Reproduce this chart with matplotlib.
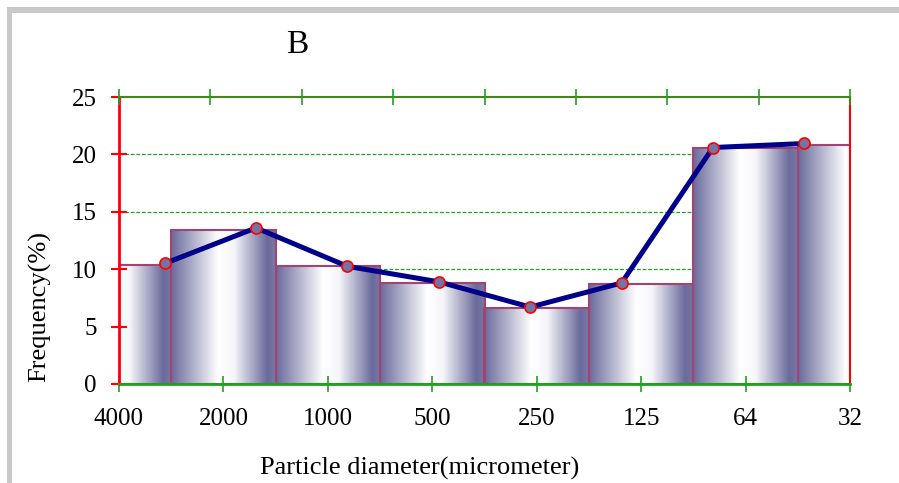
import matplotlib
matplotlib.use("Agg")
import matplotlib.pyplot as plt
import numpy as np
from matplotlib.colors import LinearSegmentedColormap
from matplotlib.patches import Rectangle

# data
sizes = ["4000", "2000", "1000", "500", "250", "125", "64", "32"]
bar_freq = [10.35, 13.45, 10.25, 8.8, 6.65, 8.7, 20.6, 20.85]
line_freq = [10.5, 13.6, 10.25, 8.9, 6.7, 8.8, 20.6, 20.95]
yticks = [0, 5, 10, 15, 20, 25]
grid_levels = [10, 15, 20]

plt.rcParams['font.family'] = ['Liberation Serif', 'DejaVu Serif']

red = "#ff0000"
green = "#22a022"
dark = "#6a6a9c"
edge = "#a04472"

fig = plt.figure(figsize=(8.99, 4.83), dpi=100)
ax = fig.add_axes([119/899, 1-384/483, 731/899, 287/483])

# gradient used inside every bar (dark - white - dark)
cmap = LinearSegmentedColormap.from_list("barfill", [
    (0.0, dark), (0.45, "#ffffff"), (0.6, "#f6f6fa"), (0.92, dark), (1.0, "#7a7aa6")])
grad = np.linspace(0, 1, 256).reshape(1, -1)

x = np.arange(len(sizes))
for i, h in enumerate(bar_freq):
    ax.imshow(grad, cmap=cmap, extent=[x[i]-0.5, x[i]+0.5, 0, h],
              aspect="auto", zorder=1, interpolation="bilinear")
ax.bar(x, bar_freq, width=1.0, facecolor="none", edgecolor=edge,
       linewidth=1.5, zorder=2)

for g in grid_levels:
    ax.axhline(g, color=green, linestyle=(0, (3, 1.5)), linewidth=0.9, zorder=0.5)

ax.set_xlim(0, len(sizes)-1)
ax.set_ylim(0, 25)
ax.set_xticks(x)
ax.set_xticklabels(sizes)
ax.set_yticks(yticks)

ax.tick_params(axis="x", direction="inout", length=11, width=1.2, color=green,
               labelsize=18, pad=12)
ax.tick_params(axis="y", direction="inout", length=12, width=1.5, color=red,
               labelsize=18, pad=10)
ax.spines["left"].set_color(red)
ax.spines["left"].set_linewidth(2)
ax.spines["right"].set_color(red)
ax.spines["right"].set_linewidth(1.5)
ax.spines["top"].set_color(red)
ax.spines["top"].set_linewidth(1.5)
ax.spines["bottom"].set_color(green)
ax.spines["bottom"].set_linewidth(2)

# frequency polygon on a second x scale with 8 classes
ax2 = ax.twiny()
ax2.set_xlim(0, len(line_freq))
ax2.set_ylim(0, 25)
ax2.plot(np.arange(len(line_freq)) + 0.5, line_freq, color="#00008b", linewidth=3.6,
         marker="o", markersize=8, markerfacecolor="#7474a4",
         markeredgecolor=red, markeredgewidth=1.2, zorder=5)
ax2.set_xticks(np.arange(len(line_freq)+1))
ax2.tick_params(axis="x", direction="inout", length=12, width=1.2, color=green,
                labeltop=False)
for s in ["left", "right", "bottom"]:
    ax2.spines[s].set_visible(False)
ax2.spines["top"].set_color(green)
ax2.spines["top"].set_linewidth(1.2)

fig.text(297/899, 1-45/483, "B", fontsize=24, ha="center", va="center")
fig.text(40/899, 1-306/483, "Frequency(%)", fontsize=19, rotation=90,
         ha="center", va="center")
fig.text(420/899, 1-468/483, "Particle diameter(micrometer)", fontsize=19,
         ha="center", va="center")

# grey frame around the picture
fig.add_artist(Rectangle((7/899, 1-13/483), 892/899, 6/483, transform=fig.transFigure,
                         facecolor="#c8c8c8", edgecolor="none"))
fig.add_artist(Rectangle((7/899, 0), 5/899, 1-7/483, transform=fig.transFigure,
                         facecolor="#c8c8c8", edgecolor="none"))

fig.savefig("out.png", dpi=100)
